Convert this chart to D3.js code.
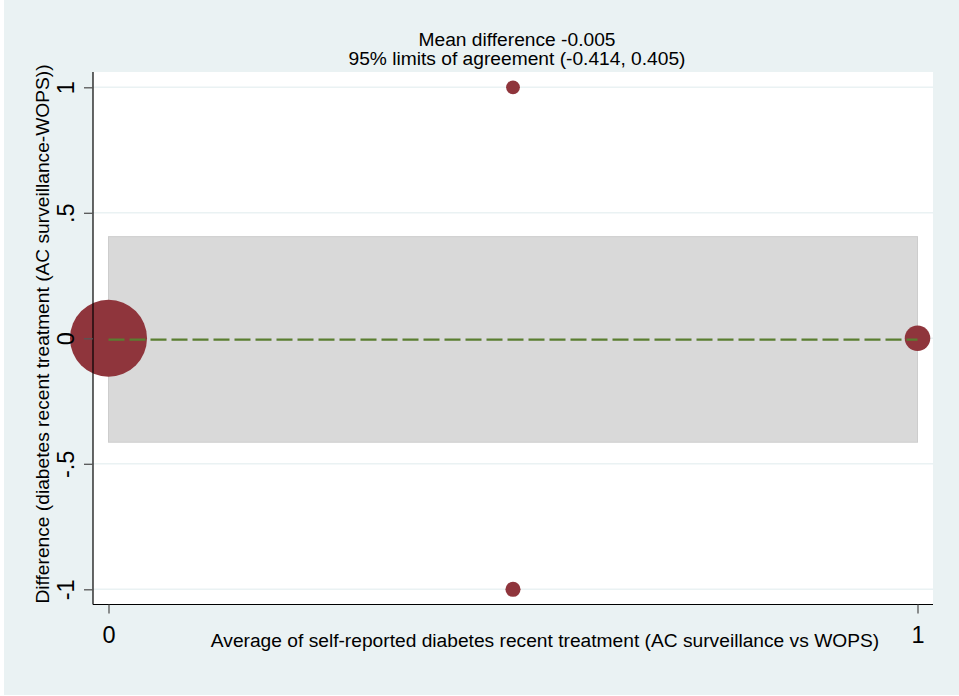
<!DOCTYPE html>
<html>
<head>
<meta charset="utf-8">
<script src="https://cdn.jsdelivr.net/npm/d3@7"></script>
<style>
  html, body { margin: 0; padding: 0; background: #ffffff; }
  svg { display: block; }
  text { font-family: "Liberation Sans", Arial, sans-serif; fill: #000; }
</style>
</head>
<body>
<svg id="chart" width="959" height="696"></svg>
<script>
// Bland–Altman agreement: AC surveillance vs WOPS, diabetes recent treatment
const averages    = [0, 1, 0.5, 0.5];      // mean of the two sources
const differences = [0, 0, 1, -1];         // AC surveillance - WOPS
const counts      = [180, 17, 4, 5];       // observations at each point

const meanDiff = -0.005;
const loa = [-0.414, 0.405];

const xTicks = [0, 1];
const yTicks = [-1, -0.5, 0, 0.5, 1];
const yTickLabels = ["-1", "-.5", "0", ".5", "1"];

const titleLines = [
  "Mean difference " + meanDiff.toFixed(3),
  "95% limits of agreement (" + loa[0].toFixed(3) + ", " + loa[1].toFixed(3) + ")"
];
const xTitle = "Average of self-reported diabetes recent treatment (AC surveillance vs WOPS)";
const yTitle = "Difference (diabetes recent treatment (AC surveillance-WOPS))";

const svg = d3.select("#chart");

const plot = { left: 93, right: 933, top: 72, bottom: 604.5 };

const x = d3.scaleLinear().domain([0, 1]).range([108.5, 917.5]);
const y = d3.scaleLinear().domain([-1, 1]).range([589.3, 87.3]);
const r = d3.scaleSqrt().domain([4, 180]).range([6.9, 38.5]);

// outer background and plot region
svg.append("rect").attr("x", 4).attr("y", 0).attr("width", 955).attr("height", 695)
  .attr("fill", "#eaf2f3");
svg.append("rect").attr("x", plot.left).attr("y", plot.top)
  .attr("width", plot.right - plot.left).attr("height", plot.bottom - plot.top)
  .attr("fill", "#ffffff");

// horizontal gridlines
svg.append("g").selectAll("line").data(yTicks).join("line")
  .attr("x1", plot.left).attr("x2", plot.right)
  .attr("y1", d => y(d)).attr("y2", d => y(d))
  .attr("stroke", "#eaf2f3").attr("stroke-width", 1.6);

// limits-of-agreement band
svg.append("rect")
  .attr("x", x(0)).attr("width", x(1) - x(0))
  .attr("y", y(loa[1])).attr("height", y(loa[0]) - y(loa[1]))
  .attr("fill", "#d9d9d9").attr("stroke", "#cdcdcd").attr("stroke-width", 1);

// weighted markers
const pts = averages.map((a, i) => ({ a, d: differences[i], n: counts[i] }));
svg.append("g").selectAll("circle").data(pts).join("circle")
  .attr("cx", d => x(d.a)).attr("cy", d => y(d.d)).attr("r", d => r(d.n))
  .attr("fill", "#8f353c");

// mean difference line
svg.append("line")
  .attr("x1", x(0)).attr("x2", x(1))
  .attr("y1", y(meanDiff)).attr("y2", y(meanDiff))
  .attr("stroke", "#5a7e31").attr("stroke-width", 2.2)
  .attr("stroke-dasharray", "16,5");

// y axis
const yAxis = d3.axisLeft(y).tickValues(yTicks).tickSize(9).tickFormat((d, i) => yTickLabels[i]);
const gy = svg.append("g").attr("transform", `translate(${plot.left},0)`).call(yAxis);
gy.select(".domain").attr("d", `M0,${plot.top}V${plot.bottom}`).attr("stroke", "#000").attr("stroke-width", 1.2);
gy.selectAll(".tick line").attr("stroke", "#555").attr("stroke-width", 1.3);
gy.selectAll(".tick text")
  .attr("x", 0).attr("dy", null).attr("y", 0)
  .attr("transform", "translate(-19,0) rotate(-90)")
  .attr("text-anchor", "middle")
  .attr("font-size", 23.5)
  .attr("font-family", "Liberation Sans, Arial, sans-serif")
  .attr("fill", "#000");

// x axis
const xAxis = d3.axisBottom(x).tickValues(xTicks).tickSize(9).tickFormat(d3.format("d"));
const gx = svg.append("g").attr("transform", `translate(0,${plot.bottom})`).call(xAxis);
gx.select(".domain").attr("d", `M${plot.left},0H${plot.right}`).attr("stroke", "#000").attr("stroke-width", 1.2);
gx.selectAll(".tick line").attr("stroke", "#555").attr("stroke-width", 1.3);
gx.selectAll(".tick text")
  .attr("y", 38).attr("dy", null)
  .attr("font-size", 23.5)
  .attr("font-family", "Liberation Sans, Arial, sans-serif")
  .attr("fill", "#000");

// titles
svg.append("g").selectAll("text").data(titleLines).join("text")
  .attr("x", 517).attr("y", (d, i) => 46 + i * 19)
  .attr("text-anchor", "middle").attr("font-size", 19.2)
  .text(d => d);

svg.append("text")
  .attr("x", 545).attr("y", 647)
  .attr("text-anchor", "middle").attr("font-size", 19.2)
  .text(xTitle);

svg.append("text")
  .attr("transform", "translate(49,334) rotate(-90)")
  .attr("text-anchor", "middle").attr("font-size", 19.2)
  .text(yTitle);
</script>
</body>
</html>
